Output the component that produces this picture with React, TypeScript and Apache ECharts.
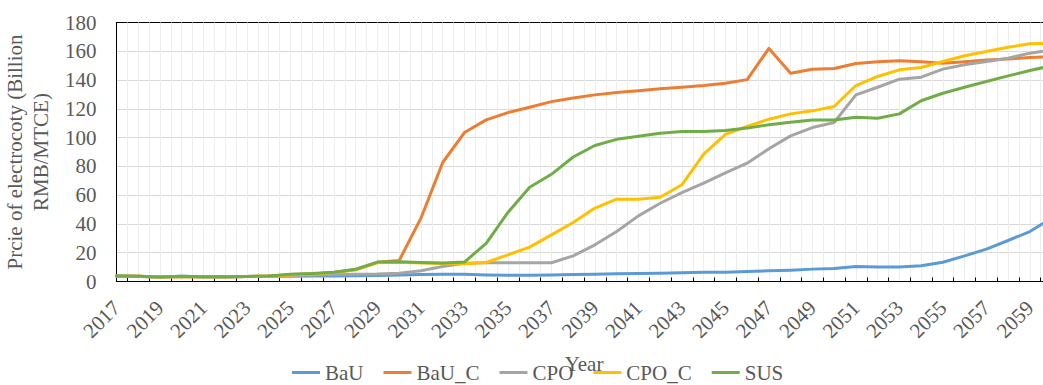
import React, { useEffect, useRef } from 'react';
import * as echarts from 'echarts';

const years = [
  2017, 2018, 2019, 2020, 2021, 2022, 2023, 2024, 2025, 2026,
  2027, 2028, 2029, 2030, 2031, 2032, 2033, 2034, 2035, 2036,
  2037, 2038, 2039, 2040, 2041, 2042, 2043, 2044, 2045, 2046,
  2047, 2048, 2049, 2050, 2051, 2052, 2053, 2054, 2055, 2056,
  2057, 2058, 2059, 2060,
];

const labelYears = [
  2017, 2019, 2021, 2023, 2025, 2027, 2029, 2031, 2033, 2035, 2037,
  2039, 2041, 2043, 2045, 2047, 2049, 2051, 2053, 2055, 2057, 2059,
];

const BaU = [
  3.8, 3.7, 3.2, 3.6, 3.3, 3.3, 3.5, 3.6, 3.7, 3.8,
  3.9, 4.0, 4.2, 4.6, 4.8, 5.0, 5.0, 4.5, 4.3, 4.3,
  4.6, 4.8, 5.0, 5.3, 5.5, 5.8, 6.1, 6.4, 6.5, 6.9,
  7.4, 7.9, 8.6, 9.0, 10.4, 10.0, 10.0, 10.9, 13.4, 17.8,
  22.5, 28.5, 34.7, 44,
];

const BaU_C = [
  3.7, 3.6, 3.2, 3.5, 3.3, 3.3, 3.5, 3.7, 4.8, 5.3,
  6.3, 8.3, 13.3, 14.6, 44, 82.7, 103.5, 112.3, 117.4, 121.1,
  125, 127.6, 129.7, 131.3, 132.5, 133.9, 135, 136.2, 137.8, 140.3,
  162, 144.8, 147.5, 148, 151.5, 152.8, 153.4, 152.8, 151.7, 152.8,
  154, 154.7, 155.6, 156.2,
];

const CPO = [
  3.6, 3.5, 3.1, 3.4, 3.2, 3.2, 3.4, 3.6, 4.2, 4.5,
  4.8, 5.0, 5.2, 5.8, 7.5, 10.4, 12.7, 13.0, 13.0, 13.0,
  13.0, 17.8, 25.5, 34.7, 45.6, 54.4, 61.8, 68.3, 75.5, 82.2,
  92.2, 101.2, 107, 110.5, 129.7, 135, 140.6, 142, 147.6, 150.6,
  152.9, 155.2, 158.7, 161,
];

const CPO_C = [
  3.7, 3.6, 3.2, 3.5, 3.3, 3.3, 3.5, 3.7, 4.6, 5.2,
  6.2, 8.2, 13.0, 13.4, 12.9, 12.5, 12.3, 13.2, 18.5, 23.9,
  32.4, 41, 51, 57.2, 57.2, 58.6, 67.2, 88.6, 102.2, 107.7,
  112.8, 116.5, 118.6, 121.6, 136.2, 142.5, 147.1, 148.7, 152.9, 156.9,
  159.8, 162.8, 165.2, 165.5,
];

const SUS = [
  3.8, 3.7, 3.2, 3.6, 3.3, 3.3, 3.5, 3.8, 5.0, 5.5,
  6.5, 8.5, 13.5, 13.8, 13.2, 12.8, 13.5, 26.5, 48, 65.5,
  74.5, 86.5, 94.5, 98.8, 101, 103, 104.2, 104.2, 104.9, 106.6,
  108.9, 110.7, 112.2, 112.3, 114.2, 113.5, 116.5, 125.6, 130.8, 135,
  139, 142.9, 146.6, 150,
];

const seriesNames = ['BaU', 'BaU_C', 'CPO', 'CPO_C', 'SUS'];
const seriesValues = [BaU, BaU_C, CPO, CPO_C, SUS];
const seriesColors = ['#5B9BD5', '#ED7D31', '#A5A5A5', '#FFC000', '#70AD47'];

const yTitle = 'Prcie of electrocoty (Billion\nRMB/MTCE)';
const xTitle = 'Year';

const FONT = '"Liberation Serif", "Times New Roman", serif';
const TEXT_COLOR = '#595959';

export default function App() {
  const ref = useRef<HTMLDivElement>(null);

  useEffect(() => {
    if (!ref.current) return;
    const chart = echarts.init(ref.current, null, { renderer: 'svg' });

    const halfYears = years.slice(0, -1).map((y) => y + 0.5);

    const option: any = {
      animation: false,
      backgroundColor: '#ffffff',
      textStyle: { fontFamily: FONT },
      grid: {
        left: 116.5,
        top: 22.5,
        right: -8.6,
        bottom: 103.5,
        show: true,
        borderColor: '#000000',
        borderWidth: 1,
        backgroundColor: 'transparent',
        containLabel: false,
        outerBoundsMode: 'none',
      },
      legend: {
        data: seriesNames,
        icon: 'rect',
        left: 287,
        top: 357,
        padding: 5,
        itemWidth: 28,
        itemHeight: 3,
        itemGap: 20,
        textStyle: { color: TEXT_COLOR, fontSize: 21, fontFamily: FONT },
      },
      xAxis: [
        {
          type: 'value',
          min: 2017,
          max: 2060,
          position: 'bottom',
          name: xTitle,
          nameLocation: 'middle',
          nameGap: 72,
          nameTextStyle: { color: TEXT_COLOR, fontSize: 21, fontFamily: FONT },
          axisLine: { show: true, onZero: false, lineStyle: { color: '#000000', width: 1 } },
          axisTick: {
            show: true,
            inside: true,
            length: 4,
            customValues: halfYears,
            lineStyle: { color: '#000000', width: 1 },
          },
          axisLabel: {
            show: true,
            customValues: labelYears,
            rotate: 45,
            margin: 23,
            color: TEXT_COLOR,
            fontSize: 21,
            fontFamily: FONT,
            formatter: (v: number) => String(v),
          },
          splitLine: { show: true, lineStyle: { color: '#ededed', width: 1 } },
        },
        {
          type: 'value',
          min: 2017,
          max: 2060,
          interval: 1,
          position: 'top',
          axisLine: { show: false },
          axisTick: { show: false },
          axisLabel: { show: false },
          splitLine: { show: true, showMinLine: false, lineStyle: { color: '#ededed', width: 1 } },
        },
      ],
      yAxis: {
        type: 'value',
        min: 0,
        max: 180,
        interval: 20,
        name: yTitle,
        nameLocation: 'middle',
        nameGap: 55,
        nameTextStyle: {
          color: TEXT_COLOR,
          fontSize: 21,
          lineHeight: 26,
          fontFamily: FONT,
        },
        axisLine: { show: true, lineStyle: { color: '#000000', width: 1 } },
        axisTick: { show: false },
        axisLabel: { margin: 20, color: TEXT_COLOR, fontSize: 21, fontFamily: FONT },
        splitLine: {
          show: true,
          showMinLine: false,
          showMaxLine: false,
          lineStyle: { color: '#d9d9d9', width: 1 },
        },
      },
      series: seriesNames.map((name, i) => ({
        name,
        type: 'line',
        xAxisIndex: 0,
        yAxisIndex: 0,
        data: years.map((y, j) => [y, seriesValues[i][j]]),
        symbol: 'none',
        showSymbol: false,
        color: seriesColors[i],
        lineStyle: { color: seriesColors[i], width: 3, join: 'round', cap: 'round' },
      })),
    };

    chart.setOption(option);
    return () => chart.dispose();
  }, []);

  return (
    <div
      ref={ref}
      style={{ position: 'absolute', left: 0, top: 0, width: 1043, height: 385 }}
    />
  );
}
